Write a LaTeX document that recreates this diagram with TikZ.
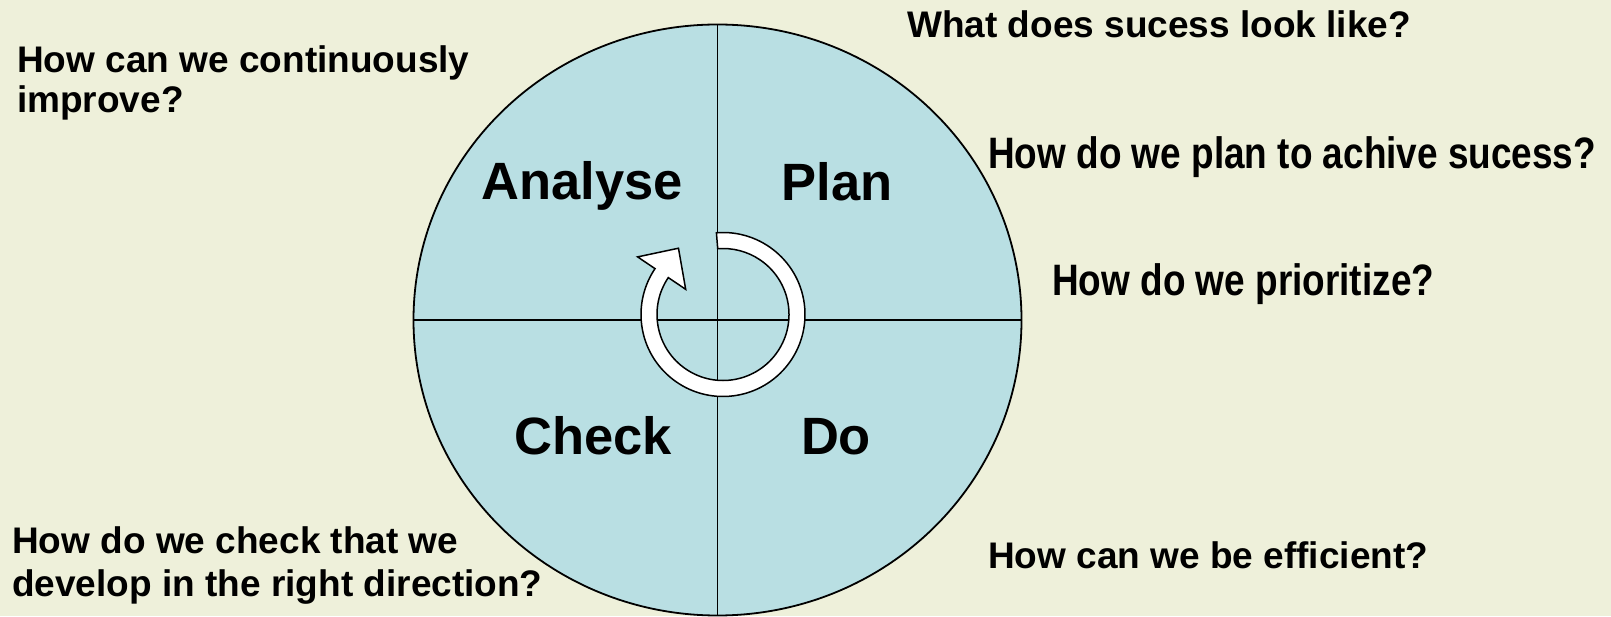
\documentclass[tikz,border=0pt]{standalone}
\usepackage{fontspec}
\setmainfont{Liberation Sans}
\usetikzlibrary{shapes.geometric}
\definecolor{bg}{RGB}{238,240,218}
\definecolor{fillblue}{RGB}{185,223,227}
\begin{document}
\begin{tikzpicture}[x=1pt,y=1pt,
  q/.style={anchor=base west, inner sep=0, font=\fontsize{37}{44}\selectfont\bfseries},
  qn/.style={anchor=base west, inner sep=0, font=\fontsize{44}{50}\selectfont\bfseries},
  lbl/.style={anchor=base, inner sep=0, font=\fontsize{52.5}{60}\selectfont\bfseries},
  div/.style={line width=1.8pt},
  ring/.style={line width=1.5pt, fill=white, line join=miter}]
\fill[bg] (0,0) rectangle (1611,616);
\useasboundingbox (0,0) rectangle (1611,616);
\node[ellipse, draw, line width=1.8pt, fill=fillblue, minimum width=608pt, minimum height=591pt, inner sep=0pt, outer sep=0pt] (E) at (717.5,296) {};
\draw[div] (E.north) -- (E.south);
\draw[div] (E.west) -- (E.east);
\node[lbl] (analyse) at (582,416) {Analyse};
\node[lbl] (plan) at (837,415) {Plan};
\node[lbl] (check) at (593,161) {Check};
\node[lbl] (do) at (836,161) {Do};
\begin{scope}[shift={(723,301.5)}]
\draw[ring] (94.6:82) arc[start angle=94.6, end angle=-214, radius=82]
  -- (146:103) -- (123.9:79.85) -- (146:45) -- (146:66)
  arc[start angle=-214, end angle=94.6, radius=66] -- cycle;
\end{scope}
\node[q] (q1) at (907,578) {What does sucess look like?};
\node[q] (q2a) at (17,543) {How can we continuously};
\node[q] (q2b) at (17,503) {improve?};
\node[qn] (q3) at (988,447.5) {\scalebox{0.84}[1]{How do we plan to achive sucess?}};
\node[qn] (q4) at (1052,320) {\scalebox{0.84}[1]{How do we prioritize?}};
\node[q] (q5) at (988,48) {How can we be efficient?};
\node[q] (q6a) at (12,63) {How do we check that we};
\node[q] (q6b) at (12,20) {develop in the right direction?};
\end{tikzpicture}
\end{document}
